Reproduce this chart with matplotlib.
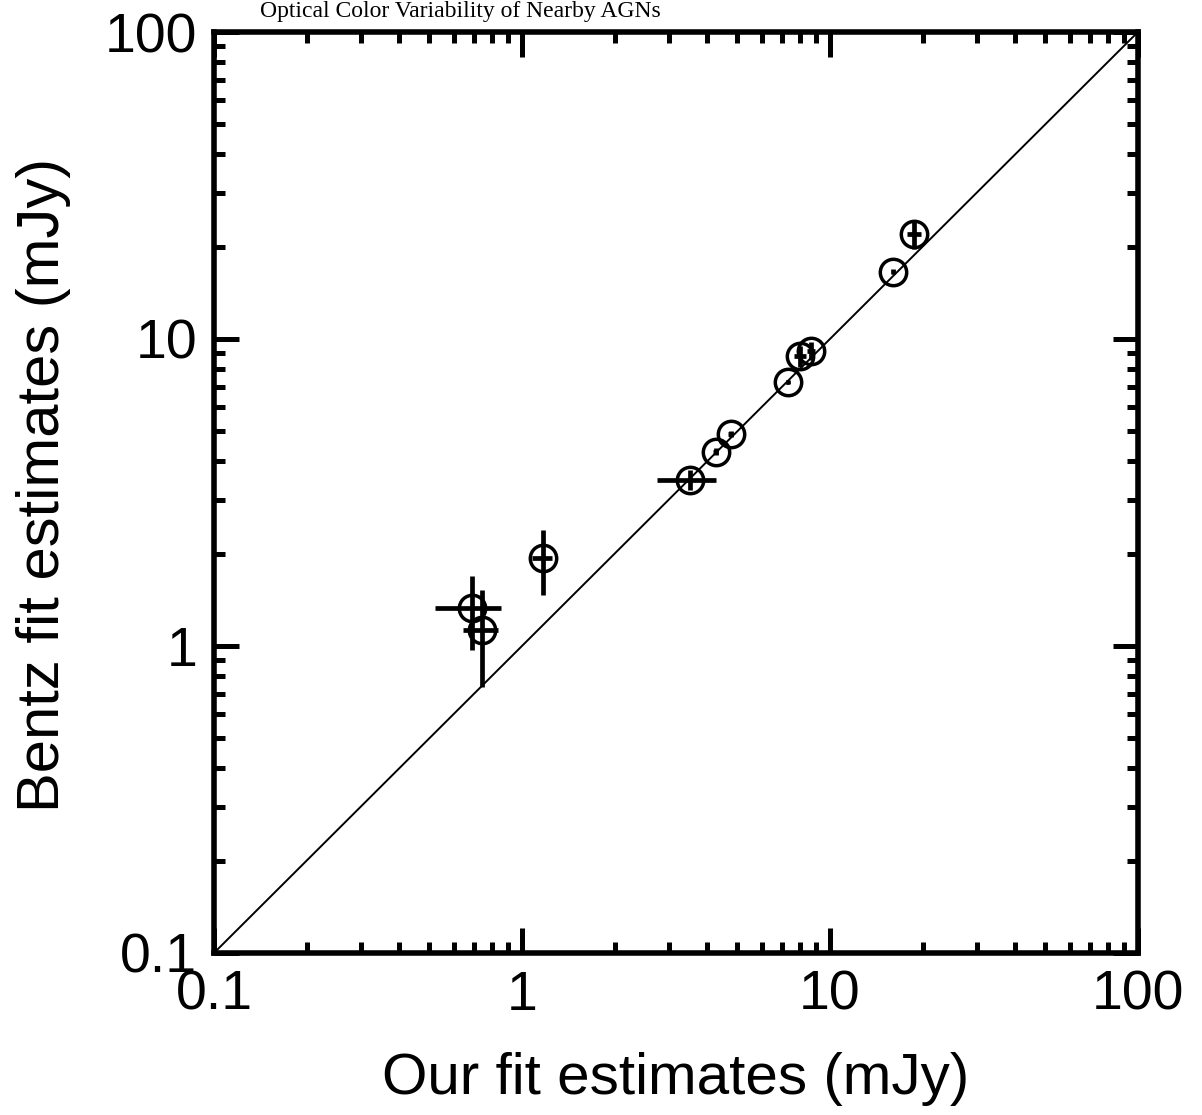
import numpy as np
import matplotlib
matplotlib.use("Agg")
import matplotlib.pyplot as plt
from matplotlib.ticker import LogLocator, FuncFormatter, NullFormatter

# our fit estimates (x) and Bentz fit estimates (y), mJy
our_flux = [0.687, 0.740, 1.167, 3.51, 4.255, 4.76, 7.29, 7.99, 8.68, 16.05, 18.78]
our_err = [0.165, 0.096, 0.087, 0.77, 0.08, 0.08, 0.08, 0.35, 0.25, 0.2, 1.0]
bentz_flux = [1.327, 1.127, 1.931, 3.473, 4.295, 4.90, 7.23, 8.80, 9.16, 16.57, 21.98]
bentz_err = [0.36, 0.39, 0.46, 0.26, 0.12, 0.12, 0.12, 0.7, 0.6, 0.3, 2.4]

plt.rcParams['font.family'] = ['Liberation Sans', 'DejaVu Sans']

fig = plt.figure(figsize=(12.02, 11.15), dpi=100)
ax = fig.add_axes([0.178, 0.1453, 0.7687, 0.826])

# one-to-one line
ax.plot([0.1, 100], [0.1, 100], color='black', lw=1.4, zorder=2)

ax.errorbar(our_flux, bentz_flux, xerr=our_err, yerr=bentz_err, fmt='none',
            ecolor='black', elinewidth=3.4, capsize=0, zorder=3)
ax.plot(our_flux, bentz_flux, 'o', mfc='none', mec='black', mew=2.5,
        ms=19, zorder=4)

ax.set_xscale('log')
ax.set_yscale('log')
ax.set_xlim(0.1, 100)
ax.set_ylim(0.1, 100)

fmt = FuncFormatter(lambda v, p: '%g' % v)
for axis in (ax.xaxis, ax.yaxis):
    axis.set_major_locator(LogLocator(base=10, numticks=10))
    axis.set_minor_locator(LogLocator(base=10, subs=np.arange(2, 10), numticks=10))
    axis.set_major_formatter(fmt)
    axis.set_minor_formatter(NullFormatter())

ax.tick_params(which='both', direction='in', top=True, right=True, width=3.6,
               labelsize=40, color='black')
ax.tick_params(which='major', length=18, pad=12)
ax.tick_params(which='minor', length=8)
for s in ax.spines.values():
    s.set_linewidth(4.0)

ax.set_xlabel('Our fit estimates (mJy)', fontsize=42, labelpad=22)
ax.set_ylabel('Bentz fit estimates (mJy)', fontsize=43, labelpad=22)
ax.yaxis.set_label_coords(-0.155, 0.508)

fig.text(0.383, 0.985, 'Optical Color Variability of Nearby AGNs',
         family='Liberation Serif', fontsize=17, ha='center', va='baseline')

fig.savefig('out.png', dpi=100)
